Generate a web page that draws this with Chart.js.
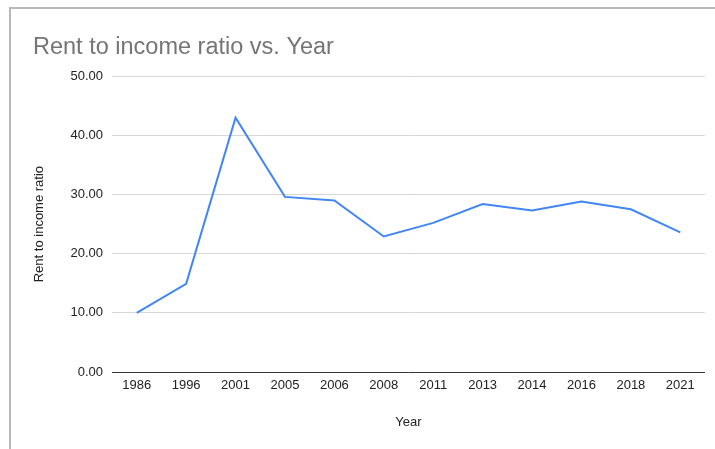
<!DOCTYPE html>
<html>
<head>
<meta charset="utf-8">
<script src="https://cdn.jsdelivr.net/npm/chart.js@4/dist/chart.umd.min.js"></script>
<style>
  html, body { margin: 0; padding: 0; background: #fff; }
  #wrap { position: relative; width: 715px; height: 449px; }
  #frame {
    position: absolute; left: 9px; top: 7px; right: 0; bottom: 0;
    border-top: 2px solid #b8b8b8; border-left: 2px solid #b8b8b8;
    pointer-events: none;
  }
</style>
</head>
<body>
<div id="wrap">
  <canvas id="rentChart"></canvas>
  <div id="frame"></div>
</div>
<script>
// values
const years = ['1986', '1996', '2001', '2005', '2006', '2008', '2011', '2013', '2014', '2016', '2018', '2021'];
const rentRatio = [10.0, 14.9, 43.0, 29.6, 29.0, 22.9, 25.2, 28.4, 27.3, 28.8, 27.5, 23.6];
const yTicks = [0, 10, 20, 30, 40, 50];

const fontFamily = '"Liberation Sans", Arial, Helvetica, sans-serif';

const ctx = document.getElementById('rentChart').getContext('2d');

new Chart(ctx, {
    type: 'line',
    data: {
        labels: years,
        datasets: [{
            label: 'Rent to income ratio',
            data: rentRatio,
            borderColor: '#4285f4',
            borderWidth: 2,
            pointRadius: 0,
            fill: false,
            tension: 0
        }]
    },
    options: {
        responsive: true,
        maintainAspectRatio: false,
        animation: false,
        layout: {
            padding: { left: 33, right: 10, top: 8, bottom: 0 }
        },
        plugins: {
            legend: { display: false },
            tooltip: { enabled: false },
            title: {
                display: true,
                text: 'Rent to income ratio vs. Year',
                align: 'start',
                color: '#757575',
                font: { family: fontFamily, size: 23.5, weight: 'normal' },
                padding: { top: 25, bottom: 15 }
            }
        },
        scales: {
            x: {
                offset: true,
                grid: { display: false, drawTicks: false },
                border: { display: false },
                ticks: {
                    color: '#222',
                    padding: 6,
                    maxRotation: 0,
                    autoSkip: false,
                    font: { family: fontFamily, size: 13 }
                },
                title: {
                    display: true,
                    text: 'Year',
                    color: '#222',
                    font: { family: fontFamily, size: 13 },
                    padding: { top: 4, bottom: 19 }
                },
                afterFit: function (scale) { scale.height = 77; }
            },
            y: {
                min: 0,
                max: 50,
                afterBuildTicks: function (scale) {
                    scale.ticks = yTicks.map(v => ({ value: v }));
                },
                grid: {
                    color: c => (c.tick && c.tick.value === 0) ? '#333' : '#d6d6d6',
                    lineWidth: 1,
                    drawTicks: false
                },
                border: { display: false },
                ticks: {
                    color: '#222',
                    padding: 9,
                    font: { family: fontFamily, size: 13 },
                    callback: v => Number(v).toFixed(2)
                },
                title: {
                    display: true,
                    text: 'Rent to income ratio',
                    color: '#222',
                    font: { family: fontFamily, size: 13, lineHeight: 1 },
                    padding: { top: 0, bottom: 0 }
                },
                afterFit: function (scale) { scale.width = 79; }
            }
        }
    }
});
</script>
</body>
</html>
